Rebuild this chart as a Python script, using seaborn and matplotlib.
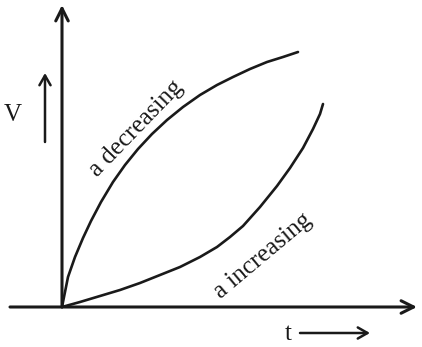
import matplotlib
matplotlib.use("Agg")
import matplotlib.pyplot as plt
import seaborn as sns
import pandas as pd

# curves (t, V in arbitrary units, origin at 0)
t_dec = [0, 0.6, 1.3, 2.1, 2.9, 3.9, 5.1, 6.3, 7.6, 9.0, 10.5, 12.1, 13.8,
         15.5, 17.1, 18.8, 20.5, 22.1, 23.6]
v_dec = [0, 3.0, 5.0, 6.9, 8.6, 10.5, 12.5, 14.2, 15.8, 17.3, 18.7, 20.0, 21.2,
         22.2, 23.0, 23.8, 24.5, 25.0, 25.5]

t_inc = [0, 1.8, 3.8, 5.8, 7.8, 9.8, 11.8, 13.8, 15.5, 16.8, 18.1, 19.8,
         21.5, 22.8, 24.1, 25.1, 25.8, 26.1]
v_inc = [0, 0.5, 1.1, 1.7, 2.4, 3.2, 4.0, 5.0, 6.0, 7.0, 8.1, 10.0,
         12.1, 13.9, 15.9, 17.8, 19.3, 20.3]

label_dec = "a decreasing"
label_inc = "a increasing"

sns.set_style("white")
plt.rcParams["font.family"] = ["Liberation Serif", "DejaVu Serif"]

fig = plt.figure(figsize=(4.22, 3.47), dpi=100)
ax = fig.add_axes([0, 0, 1, 1])

df_dec = pd.DataFrame({"t": t_dec, "V": v_dec})
df_inc = pd.DataFrame({"t": t_inc, "V": v_inc})
sns.lineplot(data=df_dec, x="t", y="V", sort=False, color="#1a1a1a", lw=1.9, ax=ax)
sns.lineplot(data=df_inc, x="t", y="V", sort=False, color="#1a1a1a", lw=1.9, ax=ax)

# axes with open arrow heads
arrow = dict(arrowstyle="->,head_length=0.9,head_width=0.45", color="#1a1a1a", lw=2.2,
             shrinkA=0, shrinkB=0)
ax.annotate("", xy=(0, 30.2), xytext=(0, 0), arrowprops=arrow)
ax.annotate("", xy=(35.5, 0), xytext=(-5.2, 0), arrowprops=arrow)

# small direction arrows
small = dict(arrowstyle="->,head_length=0.7,head_width=0.4", color="#1a1a1a", lw=1.8,
             shrinkA=0, shrinkB=0)
ax.annotate("", xy=(-1.7, 23.4), xytext=(-1.7, 16.5), arrowprops=small)
ax.annotate("", xy=(30.8, -2.6), xytext=(23.8, -2.6), arrowprops=small)

ax.text(-4.9, 19.2, "V", fontsize=18, ha="center", va="center", color="#1a1a1a")
ax.text(22.6, -2.7, "t", fontsize=18, ha="center", va="center", color="#1a1a1a")

ax.text(7.4, 17.8, label_dec, fontsize=18, rotation=46, rotation_mode="anchor",
        ha="center", va="center", color="#1a1a1a")
ax.text(20.1, 5.1, label_inc, fontsize=18, rotation=40, rotation_mode="anchor",
        ha="center", va="center", color="#1a1a1a")

ax.set_xlim(-6.2, 36.0)
ax.set_ylim(-4.0, 30.7)
ax.axis("off")

fig.savefig("out.png", dpi=100)
